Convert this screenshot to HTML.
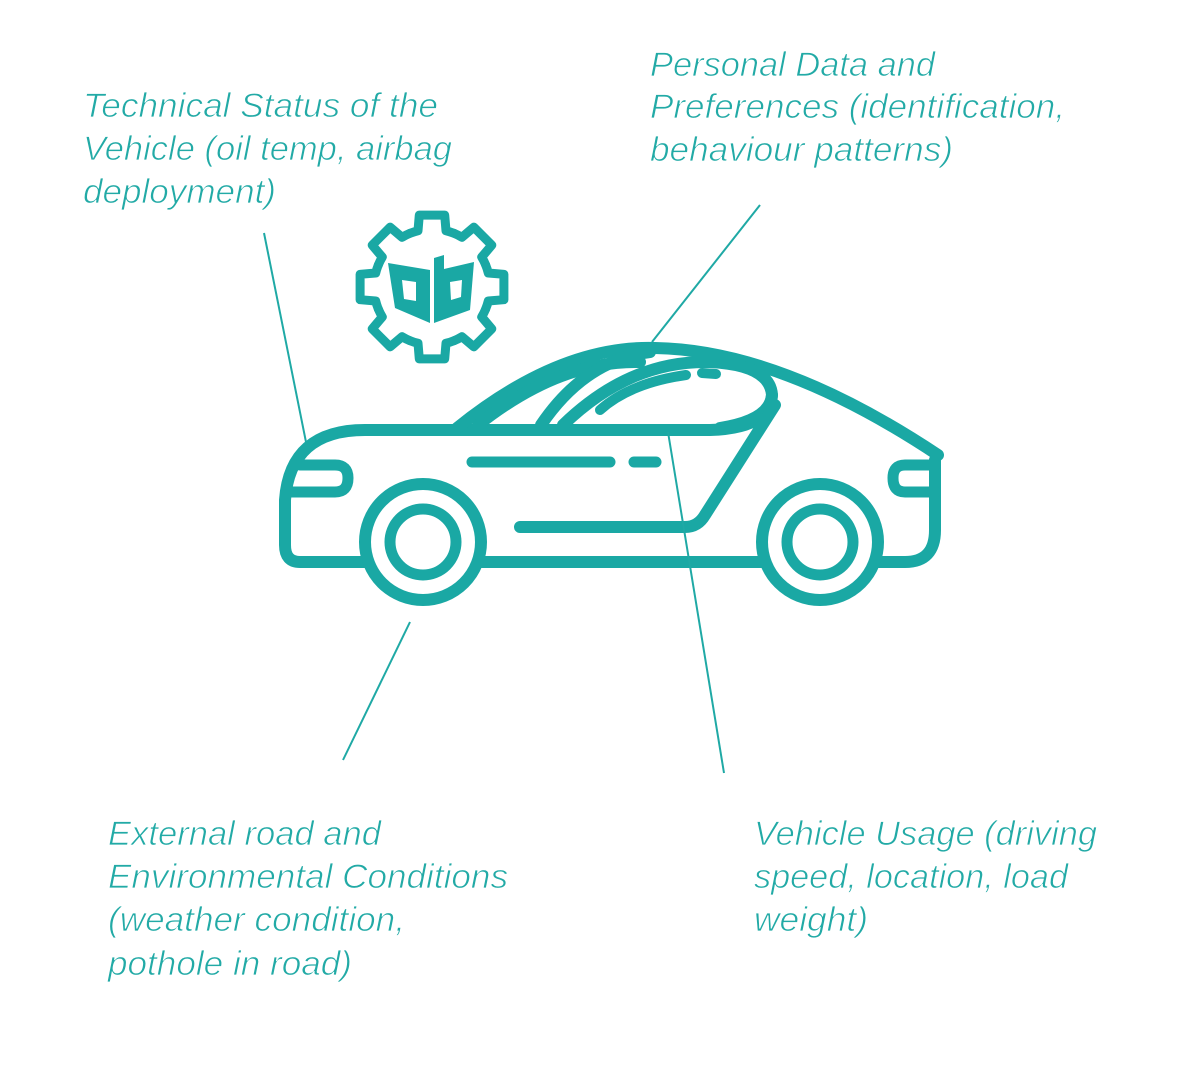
<!DOCTYPE html>
<html><head><meta charset="utf-8"><style>
html,body{margin:0;padding:0;background:#fff;}
svg{display:block;}
text{font-family:"Liberation Sans",sans-serif;font-style:italic;font-size:34px;fill:#22aaa6;stroke:#fff;stroke-width:0.8px;}
</style></head><body>
<svg width="1186" height="1086" viewBox="0 0 1186 1086" xmlns="http://www.w3.org/2000/svg">
<g>
<text x="83" y="117" textLength="355" lengthAdjust="spacingAndGlyphs">Technical Status of the</text>
<text x="83" y="160" textLength="369" lengthAdjust="spacingAndGlyphs">Vehicle (oil temp, airbag</text>
<text x="83" y="203" textLength="193" lengthAdjust="spacingAndGlyphs">deployment)</text>

<text x="650" y="76" textLength="285" lengthAdjust="spacingAndGlyphs">Personal Data and</text>
<text x="650" y="118" textLength="415" lengthAdjust="spacingAndGlyphs">Preferences (identification,</text>
<text x="650" y="161" textLength="303" lengthAdjust="spacingAndGlyphs">behaviour patterns)</text>

<text x="108" y="845" textLength="273" lengthAdjust="spacingAndGlyphs">External road and</text>
<text x="108" y="888" textLength="400" lengthAdjust="spacingAndGlyphs">Environmental Conditions</text>
<text x="108" y="931" textLength="297" lengthAdjust="spacingAndGlyphs">(weather condition,</text>
<text x="108" y="975" textLength="244" lengthAdjust="spacingAndGlyphs">pothole in road)</text>

<text x="754" y="845" textLength="343" lengthAdjust="spacingAndGlyphs">Vehicle Usage (driving</text>
<text x="754" y="888" textLength="314" lengthAdjust="spacingAndGlyphs">speed, location, load</text>
<text x="754" y="931" textLength="114" lengthAdjust="spacingAndGlyphs">weight)</text>
</g>

<!-- connector lines -->
<g stroke="#1fa9a5" stroke-width="2" fill="none">
<line x1="264" y1="233" x2="308" y2="452"/>
<line x1="760" y1="205" x2="652" y2="342"/>
<line x1="410" y1="622" x2="343" y2="760"/>
</g>

<!-- gear -->
<g transform="translate(432,287)" fill="none" stroke="#1aa8a4" stroke-width="9" stroke-linejoin="round" stroke-linecap="round">
<path id="tooth" d="M-22.2 -53.6 A58 58 0 0 1 -14 -56.3 L-12.7 -71.9 L12.7 -71.9 L14 -56.3 A58 58 0 0 1 22.2 -53.6"/>
<path d="M-22.2 -53.6 A58 58 0 0 1 -14 -56.3 L-12.7 -71.9 L12.7 -71.9 L14 -56.3 A58 58 0 0 1 22.2 -53.6" transform="rotate(45)"/>
<path d="M-22.2 -53.6 A58 58 0 0 1 -14 -56.3 L-12.7 -71.9 L12.7 -71.9 L14 -56.3 A58 58 0 0 1 22.2 -53.6" transform="rotate(90)"/>
<path d="M-22.2 -53.6 A58 58 0 0 1 -14 -56.3 L-12.7 -71.9 L12.7 -71.9 L14 -56.3 A58 58 0 0 1 22.2 -53.6" transform="rotate(135)"/>
<path d="M-22.2 -53.6 A58 58 0 0 1 -14 -56.3 L-12.7 -71.9 L12.7 -71.9 L14 -56.3 A58 58 0 0 1 22.2 -53.6" transform="rotate(180)"/>
<path d="M-22.2 -53.6 A58 58 0 0 1 -14 -56.3 L-12.7 -71.9 L12.7 -71.9 L14 -56.3 A58 58 0 0 1 22.2 -53.6" transform="rotate(225)"/>
<path d="M-22.2 -53.6 A58 58 0 0 1 -14 -56.3 L-12.7 -71.9 L12.7 -71.9 L14 -56.3 A58 58 0 0 1 22.2 -53.6" transform="rotate(270)"/>
<path d="M-22.2 -53.6 A58 58 0 0 1 -14 -56.3 L-12.7 -71.9 L12.7 -71.9 L14 -56.3 A58 58 0 0 1 22.2 -53.6" transform="rotate(315)"/>
</g>
<g fill="#1aa8a4">
<path fill-rule="evenodd" d="M388 263 L430 270 L430 323 L395 308 Z M402 280 L416 282 L416 301 L404 299 Z"/>
<path fill-rule="evenodd" d="M434 258 L444 255 L444 269 L474 262 L470 310 L434 323 Z M450 282 L462 280 L461 297 L451 300 Z"/>
</g>

<!-- car -->
<g stroke="#1aa8a4" stroke-width="12" fill="none" stroke-linecap="round" stroke-linejoin="round">
<path d="M935 460 L935 530 Q935 562 905 562 L300 562 Q285 562 285 545 L285 500 Q290 430 365 430 L710 430 Q770 428 772 395"/>
<path d="M457 428 Q560 345 655 348 Q780 350 938 455"/>
<path d="M478 425 Q560 360 640 362"/>
<path d="M541 425 Q585 360 650 352"/>
<path d="M563 425 Q630 360 710 362 Q770 365 772 395 Q770 420 720 428"/>
<path d="M600 410 Q630 383 686 375" stroke-width="10"/>
<path d="M702 373 L716 374" stroke-width="10"/>
<path d="M775 405 L705 515 Q698 527 685 527 L520 527"/>
<path d="M472 462 L610 462" stroke-width="11"/>
<path d="M634 462 L656 462" stroke-width="11"/>
<path d="M300 465 L335 465 Q348 465 348 478 Q348 492 335 492 L290 492" stroke-width="11"/>
<path d="M935 465 L905 465 Q893 465 893 478 Q893 492 905 492 L935 492" stroke-width="11"/>
</g>
<g stroke="#1aa8a4" stroke-width="12" fill="#fff">
<circle cx="423" cy="542" r="58"/>
<circle cx="423" cy="542" r="33" stroke-width="11"/>
<circle cx="820" cy="542" r="58"/>
<circle cx="820" cy="542" r="33" stroke-width="11"/>
</g>
<line x1="668" y1="432" x2="724" y2="773" stroke="#1fa9a5" stroke-width="2"/>
</svg>
</body></html>
